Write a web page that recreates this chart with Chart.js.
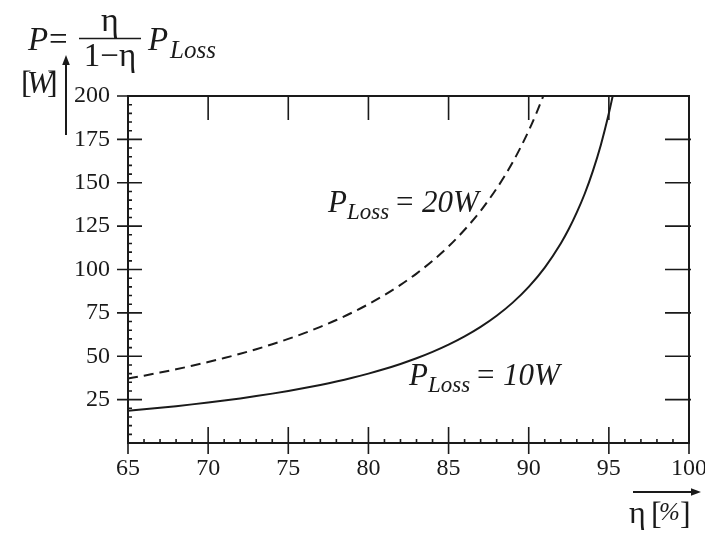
<!DOCTYPE html>
<html>
<head>
<meta charset="utf-8">
<script src="https://cdn.jsdelivr.net/npm/chart.js@4/dist/chart.umd.min.js"></script>
<style>
  html, body { margin: 0; padding: 0; background: #ffffff; }
  #wrap { width: 705px; height: 534px; position: relative; }
</style>
</head>
<body>
<div id="wrap"><canvas id="chart" width="705" height="534"></canvas></div>
<script>
// Output power versus efficiency, P = η/(1−η)·P_Loss
const efficiency10 = [65, 66, 67, 68, 69, 70, 71, 72, 73, 74, 75, 76, 77, 78, 79, 80,
  81, 82, 83, 84, 85, 86, 87, 88, 89, 90, 91, 92, 92.5, 93, 93.5, 94, 94.5, 95, 95.24];
const power10W = [18.57, 19.41, 20.30, 21.25, 22.26, 23.33, 24.48, 25.71, 27.04, 28.46, 30.00,
  31.67, 33.48, 35.45, 37.62, 40.00, 42.63, 45.56, 48.82, 52.50, 56.67, 61.43, 66.92, 73.33,
  80.91, 90.00, 101.1, 115.0, 123.3, 132.9, 143.8, 156.7, 171.8, 190.0, 200.0];

const efficiency20 = [65, 66, 67, 68, 69, 70, 71, 72, 73, 74, 75, 76, 77, 78, 79, 80,
  81, 82, 83, 84, 85, 86, 87, 88, 88.5, 89, 89.5, 90, 90.5, 90.9];
const power20W = [37.14, 38.82, 40.61, 42.50, 44.52, 46.67, 48.97, 51.43, 54.07, 56.92, 60.00,
  63.33, 66.96, 70.91, 75.24, 80.00, 85.26, 91.11, 97.65, 105.0, 113.3, 122.9, 133.8, 146.7,
  153.9, 161.8, 170.5, 180.0, 190.5, 199.8];

const xTicks = [65, 70, 75, 80, 85, 90, 95, 100];
const yTicks = [25, 50, 75, 100, 125, 150, 175, 200];

const INK = '#1a1a1a';
const SERIF = '"Liberation Serif", "Times New Roman", Times, serif';

const pairs = (xs, ys) => xs.map((x, i) => ({ x: x, y: ys[i] }));

// Frame, inward/outward tick marks and minor ticks
const frameTicks = {
  id: 'frameTicks',
  afterDraw(chart) {
    const { ctx, chartArea: a, scales: { x, y } } = chart;
    ctx.save();
    ctx.strokeStyle = INK;
    ctx.lineWidth = 2;
    ctx.strokeRect(a.left, a.top, a.right - a.left, a.bottom - a.top);
    ctx.lineWidth = 1.6;
    ctx.beginPath();
    // bottom axis: majors every 5, minors every 1
    for (let v = x.min; v <= x.max + 1e-9; v += 1) {
      const px = x.getPixelForValue(v);
      if (v % 5 === 0) {
        ctx.moveTo(px, a.bottom + 11); ctx.lineTo(px, a.bottom - 16);
        if (v > x.min && v < x.max) { ctx.moveTo(px, a.top); ctx.lineTo(px, a.top + 24); }
      } else {
        ctx.moveTo(px, a.bottom); ctx.lineTo(px, a.bottom - 4);
      }
    }
    // left axis: majors every 25, minors every 5
    for (let v = 5; v <= y.max + 1e-9; v += 5) {
      const py = y.getPixelForValue(v);
      if (v % 25 === 0) {
        ctx.moveTo(a.left - 11, py); ctx.lineTo(a.left + 14, py);
        if (v < y.max) { ctx.moveTo(a.right + 2, py); ctx.lineTo(a.right - 24, py); }
      } else {
        ctx.moveTo(a.left, py); ctx.lineTo(a.left + 4, py);
      }
    }
    ctx.stroke();
    ctx.restore();
  }
};

function arrow(ctx, x1, y1, x2, y2) {
  const ang = Math.atan2(y2 - y1, x2 - x1);
  const len = 10, hw = 3.8;
  ctx.beginPath();
  ctx.moveTo(x1, y1);
  ctx.lineTo(x2 - len * Math.cos(ang), y2 - len * Math.sin(ang));
  ctx.stroke();
  ctx.beginPath();
  ctx.moveTo(x2, y2);
  ctx.lineTo(x2 - len * Math.cos(ang) + hw * Math.sin(ang), y2 - len * Math.sin(ang) - hw * Math.cos(ang));
  ctx.lineTo(x2 - len * Math.cos(ang) - hw * Math.sin(ang), y2 - len * Math.sin(ang) + hw * Math.cos(ang));
  ctx.closePath();
  ctx.fill();
}

function txt(ctx, s, x, y, size, italic, align) {
  ctx.font = (italic ? 'italic ' : '') + size + 'px ' + SERIF;
  ctx.textAlign = align || 'left';
  ctx.fillText(s, x, y);
}

// Formula, axis labels and curve labels
const labels = {
  id: 'labels',
  afterDraw(chart) {
    const ctx = chart.ctx;
    ctx.save();
    ctx.fillStyle = INK;
    ctx.strokeStyle = INK;
    ctx.textBaseline = 'alphabetic';

    // P = η / (1−η) · P_Loss
    txt(ctx, 'P', 28, 50, 33, true);
    txt(ctx, '=', 49, 50, 33, false);
    txt(ctx, 'η', 110, 31, 34, false, 'center');
    ctx.lineWidth = 1.7;
    ctx.beginPath(); ctx.moveTo(79, 38.5); ctx.lineTo(141, 38.5); ctx.stroke();
    txt(ctx, '1−η', 110, 66, 33, false, 'center');
    txt(ctx, 'P', 148, 50, 33, true);
    txt(ctx, 'Loss', 170, 58, 25, true);

    // y axis unit and arrow
    txt(ctx, '[', 21, 93, 32, false);
    txt(ctx, 'W', 27, 93, 31, true);
    txt(ctx, ']', 47, 93, 32, false);
    ctx.lineWidth = 2;
    arrow(ctx, 66, 135, 66, 55);

    // x axis unit and arrow
    arrow(ctx, 633, 492, 701, 492);
    txt(ctx, 'η', 629, 523, 32, false);
    txt(ctx, '[', 651, 524, 32, false);
    txt(ctx, '%', 659, 520, 25, true);
    txt(ctx, ']', 680, 524, 32, false);

    // curve labels
    txt(ctx, 'P', 328, 212, 31, true);
    txt(ctx, 'Loss', 347, 219, 23, true);
    txt(ctx, '=', 396, 212, 31, false);
    txt(ctx, '20W', 422, 212, 31, true);

    txt(ctx, 'P', 409, 385, 31, true);
    txt(ctx, 'Loss', 428, 392, 23, true);
    txt(ctx, '=', 477, 385, 31, false);
    txt(ctx, '10W', 503, 385, 31, true);

    ctx.restore();
  }
};

function build() {
  new Chart(document.getElementById('chart'), {
    type: 'line',
    data: {
      datasets: [
        {
          label: 'P_Loss = 20W',
          data: pairs(efficiency20, power20W),
          borderColor: INK,
          borderWidth: 2,
          borderDash: [10, 6],
          pointRadius: 0,
          cubicInterpolationMode: 'monotone',
          fill: false
        },
        {
          label: 'P_Loss = 10W',
          data: pairs(efficiency10, power10W),
          borderColor: INK,
          borderWidth: 2,
          pointRadius: 0,
          cubicInterpolationMode: 'monotone',
          fill: false
        }
      ]
    },
    options: {
      responsive: false,
      animation: false,
      devicePixelRatio: 1,
      layout: { padding: { top: 96, right: 16, left: 0, bottom: 0 } },
      plugins: { legend: { display: false }, tooltip: { enabled: false } },
      scales: {
        x: {
          type: 'linear',
          min: 65, max: 100,
          afterFit(s) { s.height = 91; s.paddingLeft = 0; s.paddingRight = 0; },
          afterBuildTicks(s) { s.ticks = xTicks.map(v => ({ value: v })); },
          grid: { display: false, drawTicks: false },
          border: { display: false },
          ticks: { color: INK, padding: 11, font: { family: SERIF, size: 24 } }
        },
        y: {
          type: 'linear',
          min: 0, max: 200,
          afterFit(s) { s.width = 128; s.paddingTop = 0; s.paddingBottom = 0; },
          afterBuildTicks(s) { s.ticks = yTicks.map(v => ({ value: v })); },
          grid: { display: false, drawTicks: false },
          border: { display: false },
          ticks: { color: INK, padding: 18, font: { family: SERIF, size: 24 } }
        }
      }
    },
    plugins: [frameTicks, labels]
  });
}

Promise.all([
  document.fonts.load('24px "Liberation Serif"'),
  document.fonts.load('italic 24px "Liberation Serif"')
]).then(build, build);
</script>
</body>
</html>
